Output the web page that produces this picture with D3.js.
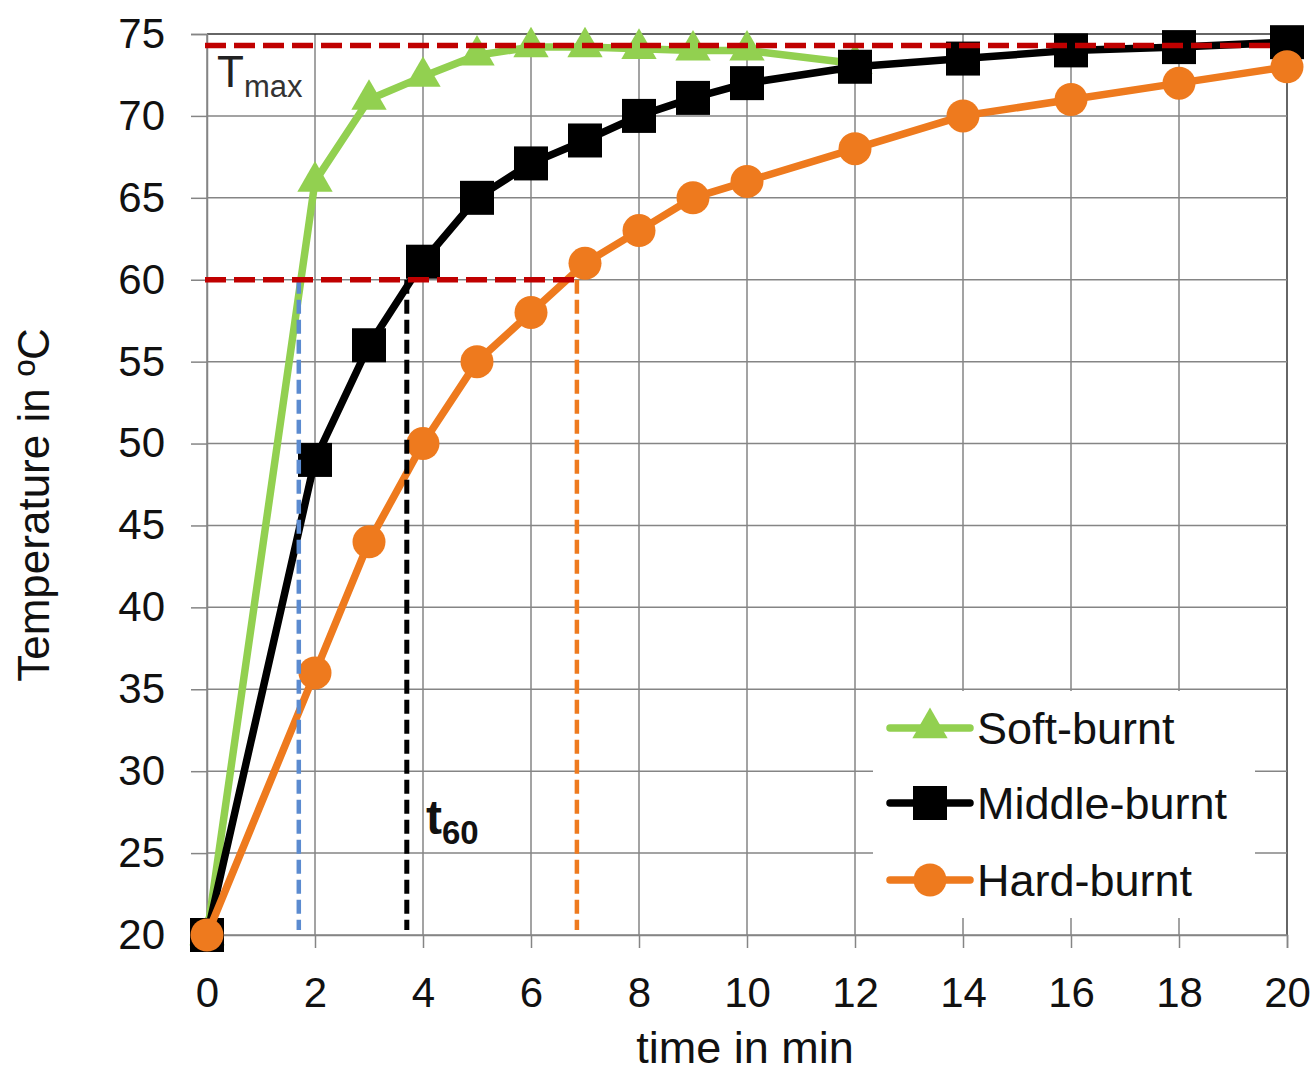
<!DOCTYPE html>
<html>
<head>
<meta charset="utf-8">
<script src="https://cdn.jsdelivr.net/npm/d3@7"></script>
<style>
  html, body { margin: 0; padding: 0; background: #fff; }
  text { font-family: "Liberation Sans", Arial, sans-serif; }
</style>
</head>
<body>
<svg id="chart" width="1315" height="1075"></svg>
<script>
// ---- data ----
const softTime   = [0, 2, 3, 4, 5, 6, 7, 8, 9, 10, 12];
const softTemp   = [20, 66, 71, 72.4, 73.7, 74.2, 74.2, 74.1, 74, 74, 73.2];
const middleTime = [0, 2, 3, 4, 5, 6, 7, 8, 9, 10, 12, 14, 16, 18, 20];
const middleTemp = [20, 49, 56, 61.1, 65, 67.1, 68.5, 70, 71.1, 72, 73, 73.5, 74, 74.2, 74.5];
const hardTime   = [0, 2, 3, 4, 5, 6, 7, 8, 9, 10, 12, 14, 16, 18, 20];
const hardTemp   = [20, 36, 44, 50, 55, 58, 61, 63, 65, 66, 68, 70, 71, 72, 73];
const seriesNames = ["Soft-burnt", "Middle-burnt", "Hard-burnt"];
const xTicks = [0, 2, 4, 6, 8, 10, 12, 14, 16, 18, 20];
const yTicks = [20, 25, 30, 35, 40, 45, 50, 55, 60, 65, 70, 75];
const tmaxValue = 74.3;
const tmaxSpan = [0, 19.8];
const t60Value = 60;
const t60Times = [1.7, 3.7, 6.85];

// ---- layout ----
const svg = d3.select("#chart");
const x = d3.scaleLinear().domain([0, 20]).range([207, 1287]);
const y = d3.scaleLinear().domain([20, 75]).range([935, 34]);

const gridColor = "#858585";
const green = "#92D050", black = "#000000", orange = "#EE7A1E";
const red = "#C00000";

// gridlines
const grid = svg.append("g");
grid.selectAll(".vg").data(xTicks).join("line")
  .attr("x1", d => x(d)).attr("x2", d => x(d))
  .attr("y1", y(75)).attr("y2", y(20))
  .attr("stroke", d => d === 20 ? "#333" : gridColor).attr("stroke-width", 1.5);
grid.selectAll(".hg").data(yTicks).join("line")
  .attr("x1", x(0)).attr("x2", x(20))
  .attr("y1", d => y(d)).attr("y2", d => y(d))
  .attr("stroke", d => d === 75 ? "#333" : gridColor).attr("stroke-width", 1.5);

// axes
const xAxis = svg.append("g").attr("transform", `translate(0,${y(20)})`)
  .call(d3.axisBottom(x).tickValues(xTicks).tickSize(13).tickPadding(29).tickFormat(d3.format("d")));
const yAxis = svg.append("g").attr("transform", `translate(${x(0)},0)`)
  .call(d3.axisLeft(y).tickValues(yTicks).tickSize(16).tickPadding(26).tickFormat(d3.format("d")));
[xAxis, yAxis].forEach(a => {
  a.select(".domain").attr("stroke", gridColor).attr("stroke-width", 1.5);
  a.selectAll(".tick line").attr("stroke", gridColor).attr("stroke-width", 1.5);
  a.selectAll(".tick text").attr("font-size", 42).attr("fill", "#111")
    .attr("font-family", "'Liberation Sans', Arial, sans-serif");
});

// axis titles
svg.append("text").attr("x", 745).attr("y", 1063).attr("text-anchor", "middle")
  .attr("font-size", 45).attr("fill", "#111").text("time in min");
svg.append("text").attr("transform", "translate(49,505) rotate(-90)").attr("text-anchor", "middle")
  .attr("font-size", 44).attr("fill", "#111").text("Temperature in ºC");

// legend background
svg.append("rect").attr("x", 873).attr("y", 691).attr("width", 382).attr("height", 227).attr("fill", "#fff");

// series
const series = [
  { name: seriesNames[0], t: softTime, v: softTemp, color: green, shape: "triangle" },
  { name: seriesNames[1], t: middleTime, v: middleTemp, color: black, shape: "square" },
  { name: seriesNames[2], t: hardTime, v: hardTemp, color: orange, shape: "circle" }
];
const line = d3.line().x(d => x(d[0])).y(d => y(d[1]));
function marker(g, shape, color) {
  if (shape === "triangle") {
    g.append("path").attr("d", d3.symbol(d3.symbolTriangle, 540)()).attr("fill", color);
  } else if (shape === "square") {
    g.append("rect").attr("x", -17).attr("y", -17).attr("width", 34).attr("height", 34).attr("fill", color);
  } else {
    g.append("circle").attr("r", 16.5).attr("fill", color);
  }
}
series.forEach(s => {
  const pts = s.t.map((t, i) => [t, s.v[i]]);
  svg.append("path").datum(pts).attr("d", line)
    .attr("fill", "none").attr("stroke", s.color).attr("stroke-width", 7.5).attr("stroke-linejoin", "round");
  pts.forEach(p => {
    const g = svg.append("g").attr("transform", `translate(${x(p[0])},${y(p[1])})`);
    marker(g, s.shape, s.color);
  });
});

// t60 vertical dashed lines
const vColors = ["#5B8BD0", "#000000", "#EE7A1E"];
const vWidths = [4.5, 5, 4.5];
t60Times.forEach((t, i) => {
  svg.append("line").attr("x1", x(t)).attr("x2", x(t))
    .attr("y1", y(t60Value)).attr("y2", y(20.3))
    .attr("stroke", vColors[i]).attr("stroke-width", vWidths[i]).attr("stroke-dasharray", "14,6");
});

// red dashed reference lines
svg.append("line").attr("x1", x(tmaxSpan[0]) - 2).attr("x2", x(tmaxSpan[1]))
  .attr("y1", y(tmaxValue)).attr("y2", y(tmaxValue))
  .attr("stroke", red).attr("stroke-width", 5.5).attr("stroke-dasharray", "21,8");
svg.append("line").attr("x1", x(0) - 2).attr("x2", x(t60Times[2]))
  .attr("y1", y(t60Value)).attr("y2", y(t60Value))
  .attr("stroke", red).attr("stroke-width", 5.5).attr("stroke-dasharray", "21,8");

// labels
const tm = svg.append("text").attr("x", 217).attr("y", 87).attr("font-size", 44).attr("fill", "#222");
tm.append("tspan").text("T");
tm.append("tspan").attr("dy", 10).attr("font-size", 31).attr("fill", "#333").text("max");

const t6 = svg.append("text").attr("x", 426).attr("y", 834).attr("font-size", 48).attr("font-weight", "bold").attr("fill", "#111");
t6.append("tspan").text("t");
t6.append("tspan").attr("dy", 10).attr("font-size", 33).text("60");

// legend
const legY = [728, 803, 880];
series.forEach((s, i) => {
  svg.append("line").attr("x1", 890).attr("x2", 970).attr("y1", legY[i]).attr("y2", legY[i])
    .attr("stroke", s.color).attr("stroke-width", 7.5).attr("stroke-linecap", "round");
  const g = svg.append("g").attr("transform", `translate(930,${legY[i]})`);
  marker(g, s.shape, s.color);
  svg.append("text").attr("x", 977).attr("y", legY[i]).attr("dy", "0.36em")
    .attr("font-size", 45).attr("fill", "#111").text(s.name);
});
</script>
</body>
</html>
